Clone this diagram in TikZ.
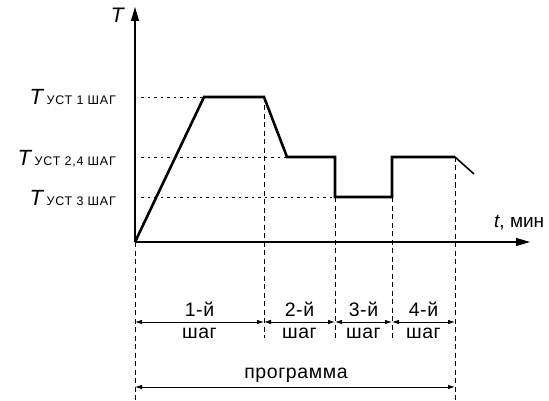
\documentclass[tikz,border=0pt]{standalone}
\usepackage{fontspec}
\setmainfont{Liberation Sans}
\usetikzlibrary{arrows.meta}

\begin{document}
\begin{tikzpicture}[x=1pt,y=-1pt,
    axis/.style={line width=1.1pt,-{Triangle[length=14pt,width=8pt]}},
    curve/.style={line width=2.6pt,line join=miter},
    level/.style={line width=0.8pt,dash pattern=on 2.5pt off 4pt},
    guide/.style={line width=0.8pt,dash pattern=on 5pt off 3.5pt},
    span/.style={line width=0.8pt,{Latex[length=7pt,width=4.5pt]}-{Latex[length=7pt,width=4.5pt]}},
    steptext/.style={font=\fontsize{19.5}{19.5}\selectfont\addfontfeature{LetterSpace=3},inner sep=0pt,anchor=base},
    levtext/.style={anchor=base east,inner sep=0pt}
]
\useasboundingbox (0,0) rectangle (549,401);

% Curve points
\coordinate (O) at (135,242);
\coordinate (P1) at (204,97);
\coordinate (P2) at (264,97);
\coordinate (P3) at (287,157);
\coordinate (P4) at (335,157);
\coordinate (P5) at (335,197);
\coordinate (P6) at (392,197);
\coordinate (P7) at (392,157);
\coordinate (P8) at (455,157);
\coordinate (P9) at (474,174);
\coordinate (Ytop) at (135,7);
\coordinate (Xend) at (530,242);
\coordinate (Bot) at (0,401);
\coordinate (StepBot) at (0,338);
\coordinate (S) at (0,322);
\coordinate (Prog) at (0,387);

% Labels
\node[anchor=base east,inner sep=0pt] (Tax) at (124,23) {\fontsize{21}{21}\selectfont\itshape T};
\node[anchor=base west,inner sep=0pt] (tax) at (494,227) {\fontsize{19}{19}\selectfont\textit{t}, мин};
\node[levtext] (Tone) at (116,105)
  {\fontsize{22}{22}\selectfont\itshape T\,\fontsize{12.5}{12.5}\selectfont\upshape\addfontfeature{LetterSpace=6} УСТ 1 ШАГ};
\node[levtext] (Ttwofour) at (116,165)
  {\fontsize{22}{22}\selectfont\itshape T\,\fontsize{12.5}{12.5}\selectfont\upshape\addfontfeature{LetterSpace=6} УСТ 2,4 ШАГ};
\node[levtext] (Tthree) at (116,205)
  {\fontsize{22}{22}\selectfont\itshape T\,\fontsize{12.5}{12.5}\selectfont\upshape\addfontfeature{LetterSpace=6} УСТ 3 ШАГ};

% Axes
\draw[axis] (O) -- (Ytop);
\draw[axis] (O) -- (Xend);

% Levels
\draw[level] ([xshift=6pt]O |- P1) -- (P1);
\draw[level] ([xshift=6pt]O |- P3) -- (P3);
\draw[level] ([xshift=6pt]O |- P5) -- (P5);

% Guides
\draw[guide] (O) -- (O |- Bot);
\draw[guide] (P2) -- (P2 |- StepBot);
\draw[guide] (P5) -- (P5 |- StepBot);
\draw[guide] (P6) -- (P6 |- StepBot);
\draw[guide] (P8) -- (P8 |- Bot);

% Temperature curve
\draw[curve] (O) -- (P1) -- (P2) -- (P3) -- (P4) -- (P5) -- (P6) -- (P7) -- (P8);
\draw[line width=1.6pt] (P8) -- (P9);

% Steps
\draw[span] (O |- S) -- (P2 |- S);
\draw[span] (P2 |- S) -- (P5 |- S);
\draw[span] (P5 |- S) -- (P6 |- S);
\draw[span] (P6 |- S) -- (P8 |- S);
\draw[span] (O |- Prog) -- (P8 |- Prog);

\node[steptext] (N1) at (199.5,316) {1-й};
\node[steptext] (W1) at (199.5,338) {шаг};
\node[steptext] (N2) at (299.5,316) {2-й};
\node[steptext] (W2) at (299.5,338) {шаг};
\node[steptext] (N3) at (363.5,316) {3-й};
\node[steptext] (W3) at (363.5,338) {шаг};
\node[steptext] (N4) at (423.5,316) {4-й};
\node[steptext] (W4) at (423.5,338) {шаг};
\node[steptext] (Pr) at (296,378) {программа};
\end{tikzpicture}
\end{document}
